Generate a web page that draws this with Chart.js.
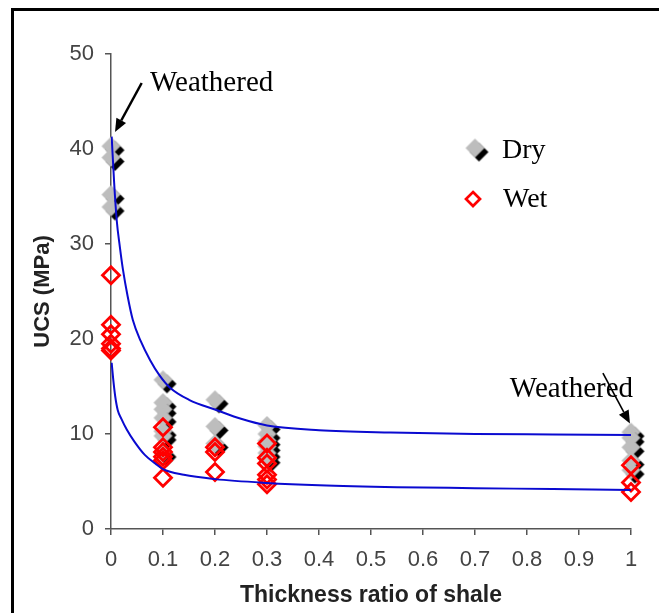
<!DOCTYPE html>
<html>
<head>
<meta charset="utf-8">
<script src="https://cdn.jsdelivr.net/npm/chart.js@4.4.1/dist/chart.umd.min.js"></script>
<style>
  html, body { margin: 0; padding: 0; background: #fff; }
  #wrap { position: relative; width: 659px; height: 613px; overflow: hidden; }
  #frame { position: absolute; left: 11px; top: 8px; width: 700px; height: 700px;
           border-left: 3px solid #000; border-top: 3px solid #000; }
  canvas { position: absolute; left: 0; top: 0; }
</style>
</head>
<body>
<div id="wrap">
  <div id="frame"></div>
  <canvas id="chart" width="659" height="613"></canvas>
</div>
<script>
// thickness ratio of shale for each sample group
const ratios = [0, 0.1, 0.2, 0.3, 1];

// UCS (MPa) per group
const dryUCS = [
  [40.3, 39.1, 35.2, 33.9],
  [15.7, 13.3, 12.6, 11.7, 10.3, 9.8, 8.0],
  [13.6, 10.8, 9.0],
  [10.9, 10.0, 9.3, 8.7, 8.0, 7.4],
  [10.2, 9.6, 8.6, 7.2, 6.2]
];
const wetUCS = [
  [26.7, 21.5, 20.5, 19.5, 19.0, 18.8],
  [10.7, 8.6, 8.1, 7.6, 7.2, 5.4],
  [8.6, 8.1, 6.0],
  [9.0, 7.5, 6.9, 5.7, 5.2, 4.7],
  [6.7, 4.9, 3.9]
];

// trend curves
const dryFitX = [0.0013, 0.006, 0.011, 0.017, 0.023, 0.032, 0.042, 0.057, 0.075, 0.093, 0.113, 0.15, 0.204, 0.25, 0.3, 0.4, 0.537, 0.7, 0.85, 1];
const dryFitY = [41.3, 36.5, 32.5, 29.7, 27.3, 24.5, 22.0, 19.8, 17.8, 16.2, 14.9, 13.6, 12.5, 11.6, 10.9, 10.4, 10.15, 10.0, 9.95, 9.9];
const wetFitX = [0.0013, 0.004, 0.008, 0.013, 0.02, 0.03, 0.045, 0.065, 0.085, 0.1, 0.14, 0.2, 0.3, 0.4, 0.55, 0.7, 0.85, 1];
const wetFitY = [17.5, 15.9, 14.0, 12.5, 11.6, 10.5, 9.2, 7.8, 6.9, 6.3, 5.7, 5.25, 4.85, 4.6, 4.4, 4.3, 4.2, 4.1];

const yTicks = [0, 10, 20, 30, 40, 50];

const toPoints = (groups) => groups.flatMap((vals, i) => vals.map(v => ({ x: ratios[i], y: v })));
const fitPoints = (xs, ys) => xs.map((x, i) => ({ x: x, y: ys[i] }));

// gray diamond with a black drop shadow
function makeDryMarker(r, off) {
  const c = document.createElement('canvas');
  const s = Math.ceil(2 * (r + off) + 2);
  c.width = s; c.height = s;
  const g = c.getContext('2d');
  const m = s / 2;
  const diamond = (cx, cy, col) => {
    g.beginPath();
    g.moveTo(cx, cy - r); g.lineTo(cx + r, cy); g.lineTo(cx, cy + r); g.lineTo(cx - r, cy);
    g.closePath();
    g.fillStyle = col;
    g.fill();
  };
  diamond(m + off, m + off, '#000');
  diamond(m, m, '#bdbdbd');
  return c;
}
const dryMarker = makeDryMarker(9.5, 4);

const notes = [
  { text: 'Weathered', at: [0.075, 46.1], tail: [0.059, 46.95], tip: [0.0077, 41.8], w: 2.5 },
  { text: 'Weathered', at: [0.767, 13.9], tail: [0.946, 16.4], tip: [0.998, 11.1], w: 1.6 }
];

const extras = {
  id: 'extras',
  afterDatasetsDraw(chart) {
    const { ctx, scales: { x, y } } = chart;
    const px = (p) => [x.getPixelForValue(p[0]), y.getPixelForValue(p[1])];
    ctx.save();
    ctx.fillStyle = '#000';
    ctx.strokeStyle = '#000';
    ctx.font = '29px "Liberation Serif", "Times New Roman", serif';
    ctx.textBaseline = 'alphabetic';
    notes.forEach(n => {
      const [tx, ty] = px(n.at);
      ctx.fillText(n.text, tx, ty);
      const [ax, ay] = px(n.tail);
      const [bx, by] = px(n.tip);
      const ang = Math.atan2(by - ay, bx - ax);
      const hl = 13, hw = 5.5;
      const baseX = bx - hl * Math.cos(ang), baseY = by - hl * Math.sin(ang);
      ctx.lineWidth = n.w;
      ctx.beginPath();
      ctx.moveTo(ax, ay);
      ctx.lineTo(baseX, baseY);
      ctx.stroke();
      ctx.beginPath();
      ctx.moveTo(bx, by);
      ctx.lineTo(baseX + hw * Math.sin(ang), baseY - hw * Math.cos(ang));
      ctx.lineTo(baseX - hw * Math.sin(ang), baseY + hw * Math.cos(ang));
      ctx.closePath();
      ctx.fill();
    });

    // legend
    const lx = x.getPixelForValue(0.7);
    const ly = y.getPixelForValue(40.1);
    ctx.drawImage(dryMarker, lx - dryMarker.width / 2, ly - dryMarker.height / 2);
    ctx.fillStyle = '#000';
    ctx.font = '28px "Liberation Serif", "Times New Roman", serif';
    ctx.fillText('Dry', lx + 27, ly + 10);
    const wy = ly + 51;
    ctx.beginPath();
    ctx.moveTo(lx - 2, wy - 7); ctx.lineTo(lx + 5, wy); ctx.lineTo(lx - 2, wy + 7); ctx.lineTo(lx - 9, wy);
    ctx.closePath();
    ctx.lineWidth = 2.7;
    ctx.strokeStyle = '#ff0000';
    ctx.stroke();
    ctx.fillText('Wet', lx + 28, wy + 8);
    ctx.restore();
  }
};

new Chart(document.getElementById('chart'), {
  type: 'scatter',
  data: {
    datasets: [
      {
        label: 'dry fit', type: 'line', data: fitPoints(dryFitX, dryFitY),
        borderColor: '#0a0ad0', borderWidth: 2, pointRadius: 0,
        cubicInterpolationMode: 'monotone', fill: false
      },
      {
        label: 'wet fit', type: 'line', data: fitPoints(wetFitX, wetFitY),
        borderColor: '#0a0ad0', borderWidth: 2, pointRadius: 0,
        cubicInterpolationMode: 'monotone', fill: false
      },
      {
        label: 'Wet', data: toPoints(wetUCS),
        pointStyle: 'rectRot', pointRadius: 8.5, borderWidth: 2.8,
        borderColor: '#ff0000', backgroundColor: 'rgba(0,0,0,0)', clip: false
      },
      {
        label: 'Dry', data: toPoints(dryUCS),
        pointStyle: dryMarker, pointRadius: 9, clip: false
      }
    ]
  },
  options: {
    responsive: false,
    animation: false,
    events: [],
    layout: { padding: { left: 30, top: 54, right: 28, bottom: 4 } },
    plugins: { legend: { display: false }, tooltip: { enabled: false } },
    scales: {
      x: {
        type: 'linear', min: 0, max: 1,
        afterFit: (s) => { s.height = 80; },
        border: { color: '#555', width: 1.5 },
        grid: { drawOnChartArea: false, drawTicks: true, tickLength: 6, color: '#555', lineWidth: 1.5 },
        ticks: {
          stepSize: 0.1, padding: 12, color: '#444',
          font: { family: '"Liberation Sans", Arial, sans-serif', size: 22 },
          callback: (v) => String(+v.toFixed(1))
        },
        title: {
          display: true, text: 'Thickness ratio of shale', color: '#222', padding: 0,
          font: { family: '"Liberation Sans", Arial, sans-serif', size: 23, weight: 'bold' }
        }
      },
      y: {
        type: 'linear', min: yTicks[0], max: yTicks[yTicks.length - 1],
        afterFit: (s) => { s.width = 81; },
        afterBuildTicks: (s) => { s.ticks = yTicks.map(v => ({ value: v })); },
        border: { color: '#555', width: 1.5 },
        grid: { drawOnChartArea: false, drawTicks: true, tickLength: 6, color: '#555', lineWidth: 1.5 },
        ticks: {
          padding: 11, color: '#444',
          font: { family: '"Liberation Sans", Arial, sans-serif', size: 22 }
        },
        title: {
          display: true, text: 'UCS (MPa)', color: '#222', padding: 0,
          font: { family: '"Liberation Sans", Arial, sans-serif', size: 22, weight: 'bold' }
        }
      }
    }
  },
  plugins: [extras]
});
</script>
</body>
</html>
